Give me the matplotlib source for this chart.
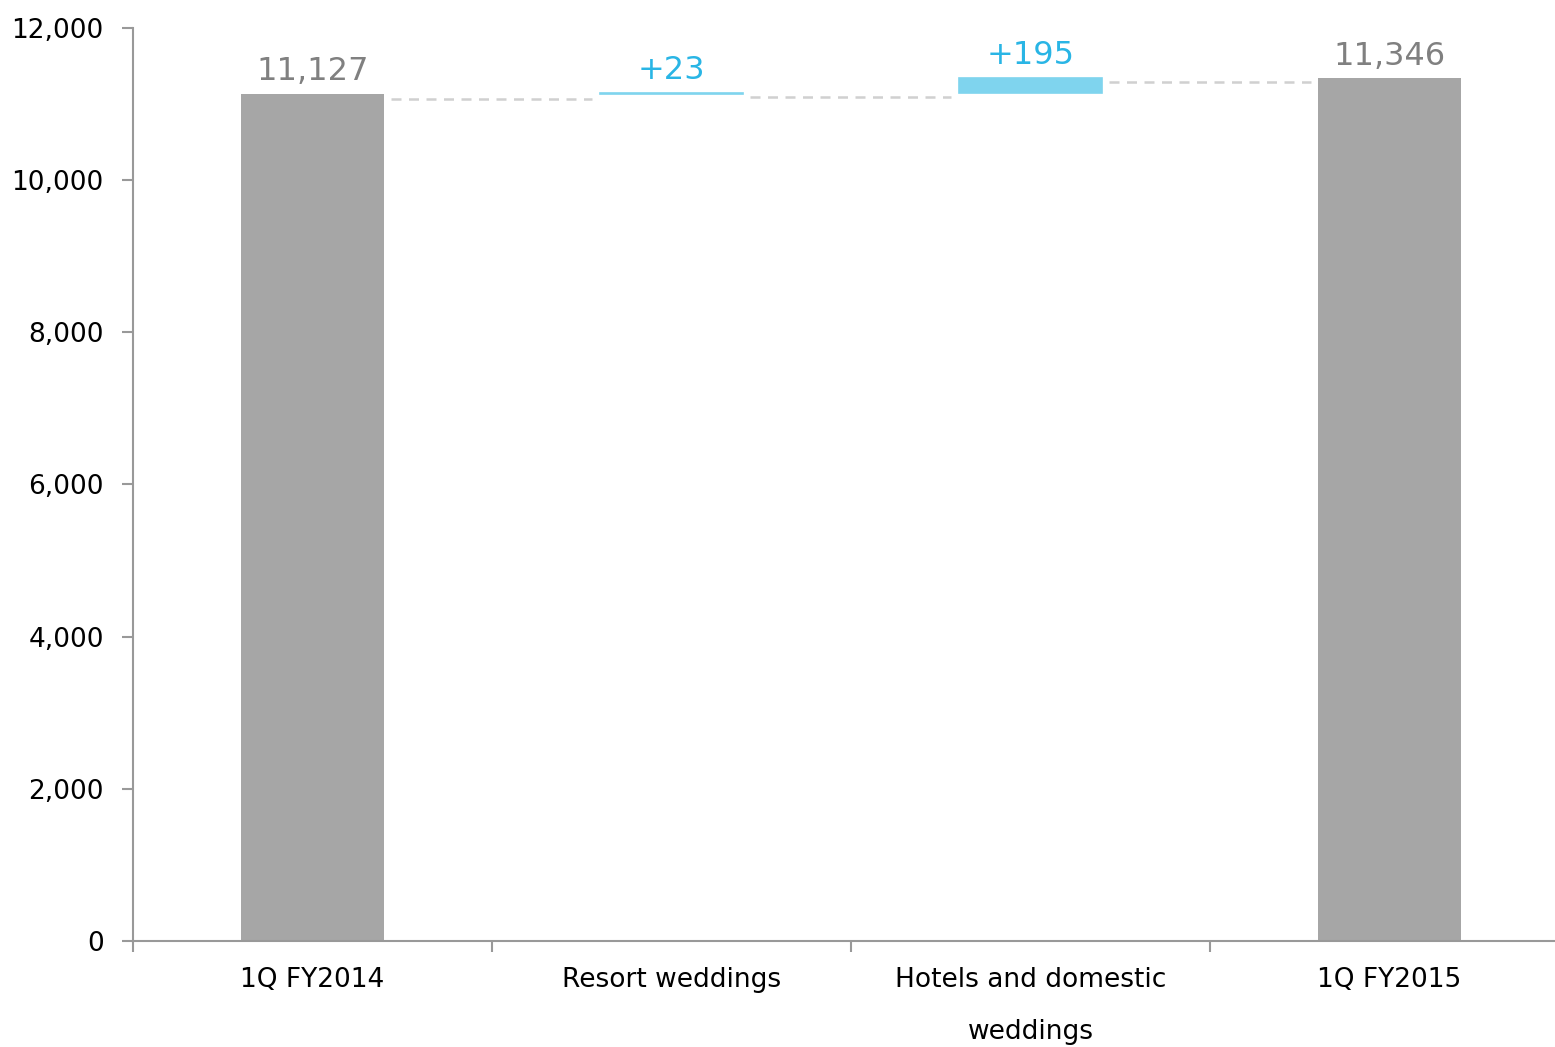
import numpy as np
import matplotlib.pyplot as plt

categories = ["1Q FY2014", "Resort weddings", "Hotels and domestic\nweddings", "1Q FY2015"]
start_total = 11127
changes = [23, 195]
end_total = 11346
yticks = [0, 2000, 4000, 6000, 8000, 10000, 12000]

GRAY = "#a6a6a6"
GRAY_TXT = "#808080"
BLUE = "#7fd4ee"
BLUE_TXT = "#29b5e5"
AXIS = "#999999"

fig = plt.figure(figsize=(15.55, 10.47), dpi=100)
ax = fig.add_axes([0.0855, 0.1012, 0.9235, 0.8721])

x = np.arange(len(categories))
width = 0.4

# totals
ax.bar([x[0], x[-1]], [start_total, end_total], width=width, color=GRAY, zorder=2)
ax.text(x[0], start_total + 100, f"{start_total:,}", ha="center", va="bottom",
        fontsize=23, color=GRAY_TXT)
ax.text(x[-1], end_total + 80, f"{end_total:,}", ha="center", va="bottom",
        fontsize=23, color=GRAY_TXT)

# changes
running = start_total
levels = [start_total]
for i, d in enumerate(changes):
    ax.bar(x[i + 1], d, bottom=running, width=width, color=BLUE,
           edgecolor=BLUE, linewidth=1.2, zorder=2)
    ax.text(x[i + 1], running + d + 90, f"+{d}", ha="center", va="bottom",
            fontsize=23, color=BLUE_TXT)
    running += d
    levels.append(running)

# dashed connectors
for i, lv in enumerate(levels):
    ax.plot([x[i] + width / 2 + 0.02, x[i + 1] - width / 2 - 0.02], [lv - 60, lv - 60],
            linestyle=(0, (4, 3)), color="#d0d0d0", linewidth=1.8, zorder=1)

ax.set_xlim(-0.5, len(categories) - 0.5)
ax.set_ylim(0, 12000)
ax.set_yticks(yticks)
ax.set_yticklabels([f"{v:,}" for v in yticks], fontsize=19)
ax.set_xticks(x)
ax.set_xticklabels(categories, fontsize=19, linespacing=2.3, va="top")
ax.set_xticks(np.arange(len(categories) + 1) - 0.5, minor=True)
ax.tick_params(axis="x", which="major", length=0, pad=19)
ax.tick_params(axis="x", which="minor", length=8, color=AXIS, width=1.5, direction="out")
ax.tick_params(axis="y", length=8, color=AXIS, width=1.5, pad=13, direction="out")

for s in ["top", "right"]:
    ax.spines[s].set_visible(False)
for s in ["left", "bottom"]:
    ax.spines[s].set_color(AXIS)
    ax.spines[s].set_linewidth(1.5)

fig.savefig("out.png", dpi=100)
